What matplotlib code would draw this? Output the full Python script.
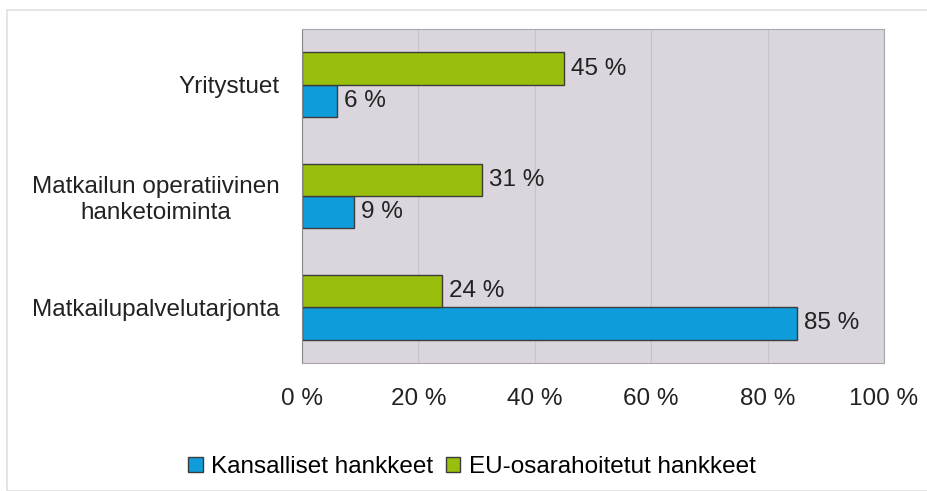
import matplotlib.pyplot as plt
from matplotlib.patches import Rectangle, Patch

plt.rcParams['font.family'] = ['Liberation Sans', 'DejaVu Sans']

categories = ['Matkailupalvelutarjonta', 'Matkailun operatiivinen\nhanketoiminta', 'Yritystuet']
kansalliset = [85, 9, 6]
eu = [24, 31, 45]
xticks = [0, 20, 40, 60, 80, 100]
xticklabels = ['0 %', '20 %', '40 %', '60 %', '80 %', '100 %']

blue = '#0e9cdb'
green = '#99bf0c'
edge = '#3c3c3c'
fs = 17.5

fig = plt.figure(figsize=(9.28, 4.91), dpi=100)
ax = fig.add_axes([302 / 928, 1 - 363 / 491, 582 / 928, 334 / 491])
ax.set_facecolor('#dbd5dd')

# outer chart border
fig.patches.append(Rectangle((7 / 928, 0), 1, 1 - 10 / 491, transform=fig.transFigure,
                             fill=False, edgecolor='#e0e0e0', linewidth=1.2))

h = 0.29
ypos = range(len(categories))
ax.barh([y - h / 2 for y in ypos], kansalliset, height=h, color=blue, edgecolor=edge, linewidth=1)
ax.barh([y + h / 2 for y in ypos], eu, height=h, color=green, edgecolor=edge, linewidth=1)

for y, v in zip(ypos, kansalliset):
    ax.text(v + 1.2, y - h / 2, f'{v} %', va='center', ha='left', fontsize=fs, color='#222222')
for y, v in zip(ypos, eu):
    ax.text(v + 1.2, y + h / 2, f'{v} %', va='center', ha='left', fontsize=fs, color='#222222')

ax.set_xlim(0, 100)
ax.set_ylim(-0.5, 2.5)
ax.set_xticks(xticks)
ax.set_xticklabels(xticklabels, fontsize=fs, color='#222222')
ax.set_yticks(list(ypos))
ax.set_yticklabels(categories, fontsize=fs, color='#222222', multialignment='center')
ax.tick_params(axis='both', length=0)
ax.tick_params(axis='x', pad=18)
ax.tick_params(axis='y', pad=16)
ax.grid(axis='x', color='#c8c4c8', linewidth=0.8)
ax.set_axisbelow(True)
for s in ['top', 'right', 'bottom']:
    ax.spines[s].set_color('#a8a8a8')
ax.spines['left'].set_color('#888888')

handles = [Patch(facecolor=blue, edgecolor=edge, label='Kansalliset hankkeet'),
           Patch(facecolor=green, edgecolor=edge, label='EU-osarahoitetut hankkeet')]
fig.legend(handles=handles, loc='center', bbox_to_anchor=(472 / 928, 1 - 467 / 491), ncol=2,
           frameon=False, fontsize=fs, handlelength=0.6, handleheight=0.6,
           handletextpad=0.35, columnspacing=0.5)

fig.savefig('out.png', dpi=100)
